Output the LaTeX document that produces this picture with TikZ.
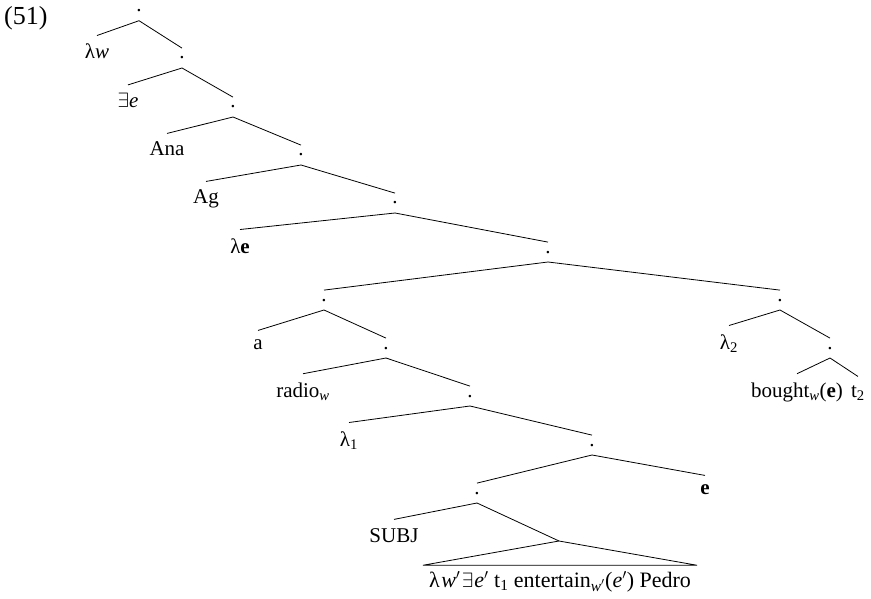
\documentclass[tikz,border=0pt]{standalone}
\usepackage{fontspec}
\setmainfont{Liberation Serif}
\begin{document}
\begin{tikzpicture}[x=1pt,y=-1pt,
  lab/.style={anchor=base, inner xsep=0pt, inner ysep=8.5pt,
    font=\fontsize{21}{25}\selectfont},
  toplab/.style={lab, inner ysep=4pt, text depth=4.5pt},
  branch/.style={line width=0.8pt},
  roofnode/.style={anchor=base, inner xsep=6pt, inner ysep=6pt,
    font=\fontsize{22}{26}\selectfont}]
\useasboundingbox (0,0) rectangle (871,599);

% example number
\node[anchor=base west, inner sep=0pt, font=\fontsize{26}{30}\selectfont]
  (exnum) at (4,25) {(51)};

% tree nodes, row by row
\node[toplab] (n0) at (139,12) {.};
\node[lab] (lw) at (97,59) {λ\textit{w}};
\node[lab] (n1) at (182,59) {.};
\node[lab] (ex) at (128,108) {$\exists$\textit{e}};
\node[lab] (n2) at (233,108) {.};
\node[lab] (ana) at (167,156) {Ana};
\node[lab] (n3) at (301,156) {.};
\node[lab] (ag) at (206,204) {Ag};
\node[lab] (n4) at (395,204) {.};
\node[lab] (le) at (240,253) {λ\textbf{e}};
\node[lab] (n5) at (548,253) {.};
\node[lab] (n6l) at (324,301) {.};
\node[lab] (n6r) at (780,301) {.};
\node[lab] (a) at (258,349) {a};
\node[lab] (n7l) at (386,349) {.};
\node[lab] (l2) at (729,349) {λ\textsubscript{2}};
\node[lab] (n7r) at (830,349) {.};
\node[lab] (radio) at (303,397) {radio\textsubscript{\textit{w}}};
\node[lab] (n8) at (470,397) {.};
\node[lab] (bought) at (797,397) {bought\textsubscript{\textit{w}}(\textbf{e})};
\node[lab] (t2) at (858,397) {t\textsubscript{2}};
\node[lab] (l1) at (349,446) {λ\textsubscript{1}};
\node[lab] (n9) at (592,446) {.};
\node[lab] (n10) at (477,494) {.};
\node[lab] (e) at (705,494) {\textbf{e}};
\node[lab] (subj) at (394,542) {SUBJ};
\coordinate (apex) at (559,541);
\node[roofnode] (rt) at (560,587)
  {λ\kern1.5pt\textit{w}$'$\kern1.5pt$\exists$\kern1pt\textit{e}$'$ t\textsubscript{1} entertain\textsubscript{\textit{w}$'$}(\textit{e}$'$) Pedro};

% branches
\begin{scope}[branch]
\draw (n0.south) -- (lw.north);
\draw (n0.south) -- (n1.north);
\draw (n1.south) -- (ex.north);
\draw (n1.south) -- (n2.north);
\draw (n2.south) -- (ana.north);
\draw (n2.south) -- (n3.north);
\draw (n3.south) -- (ag.north);
\draw (n3.south) -- (n4.north);
\draw (n4.south) -- (le.north);
\draw (n4.south) -- (n5.north);
\draw (n5.south) -- (n6l.north);
\draw (n5.south) -- (n6r.north);
\draw (n6l.south) -- (a.north);
\draw (n6l.south) -- (n7l.north);
\draw (n6r.south) -- (l2.north);
\draw (n6r.south) -- (n7r.north);
\draw (n7l.south) -- (radio.north);
\draw (n7l.south) -- (n8.north);
\draw (n7r.south) -- (bought.north);
\draw (n7r.south) -- (t2.north);
\draw (n8.south) -- (l1.north);
\draw (n8.south) -- (n9.north);
\draw (n9.south) -- (n10.north);
\draw (n9.south) -- (e.north);
\draw (n10.south) -- (subj.north);
\draw (n10.south) -- (apex);
\draw (apex) -- (rt.north west) -- (rt.north east) -- cycle;
\end{scope}
\end{tikzpicture}
\end{document}
